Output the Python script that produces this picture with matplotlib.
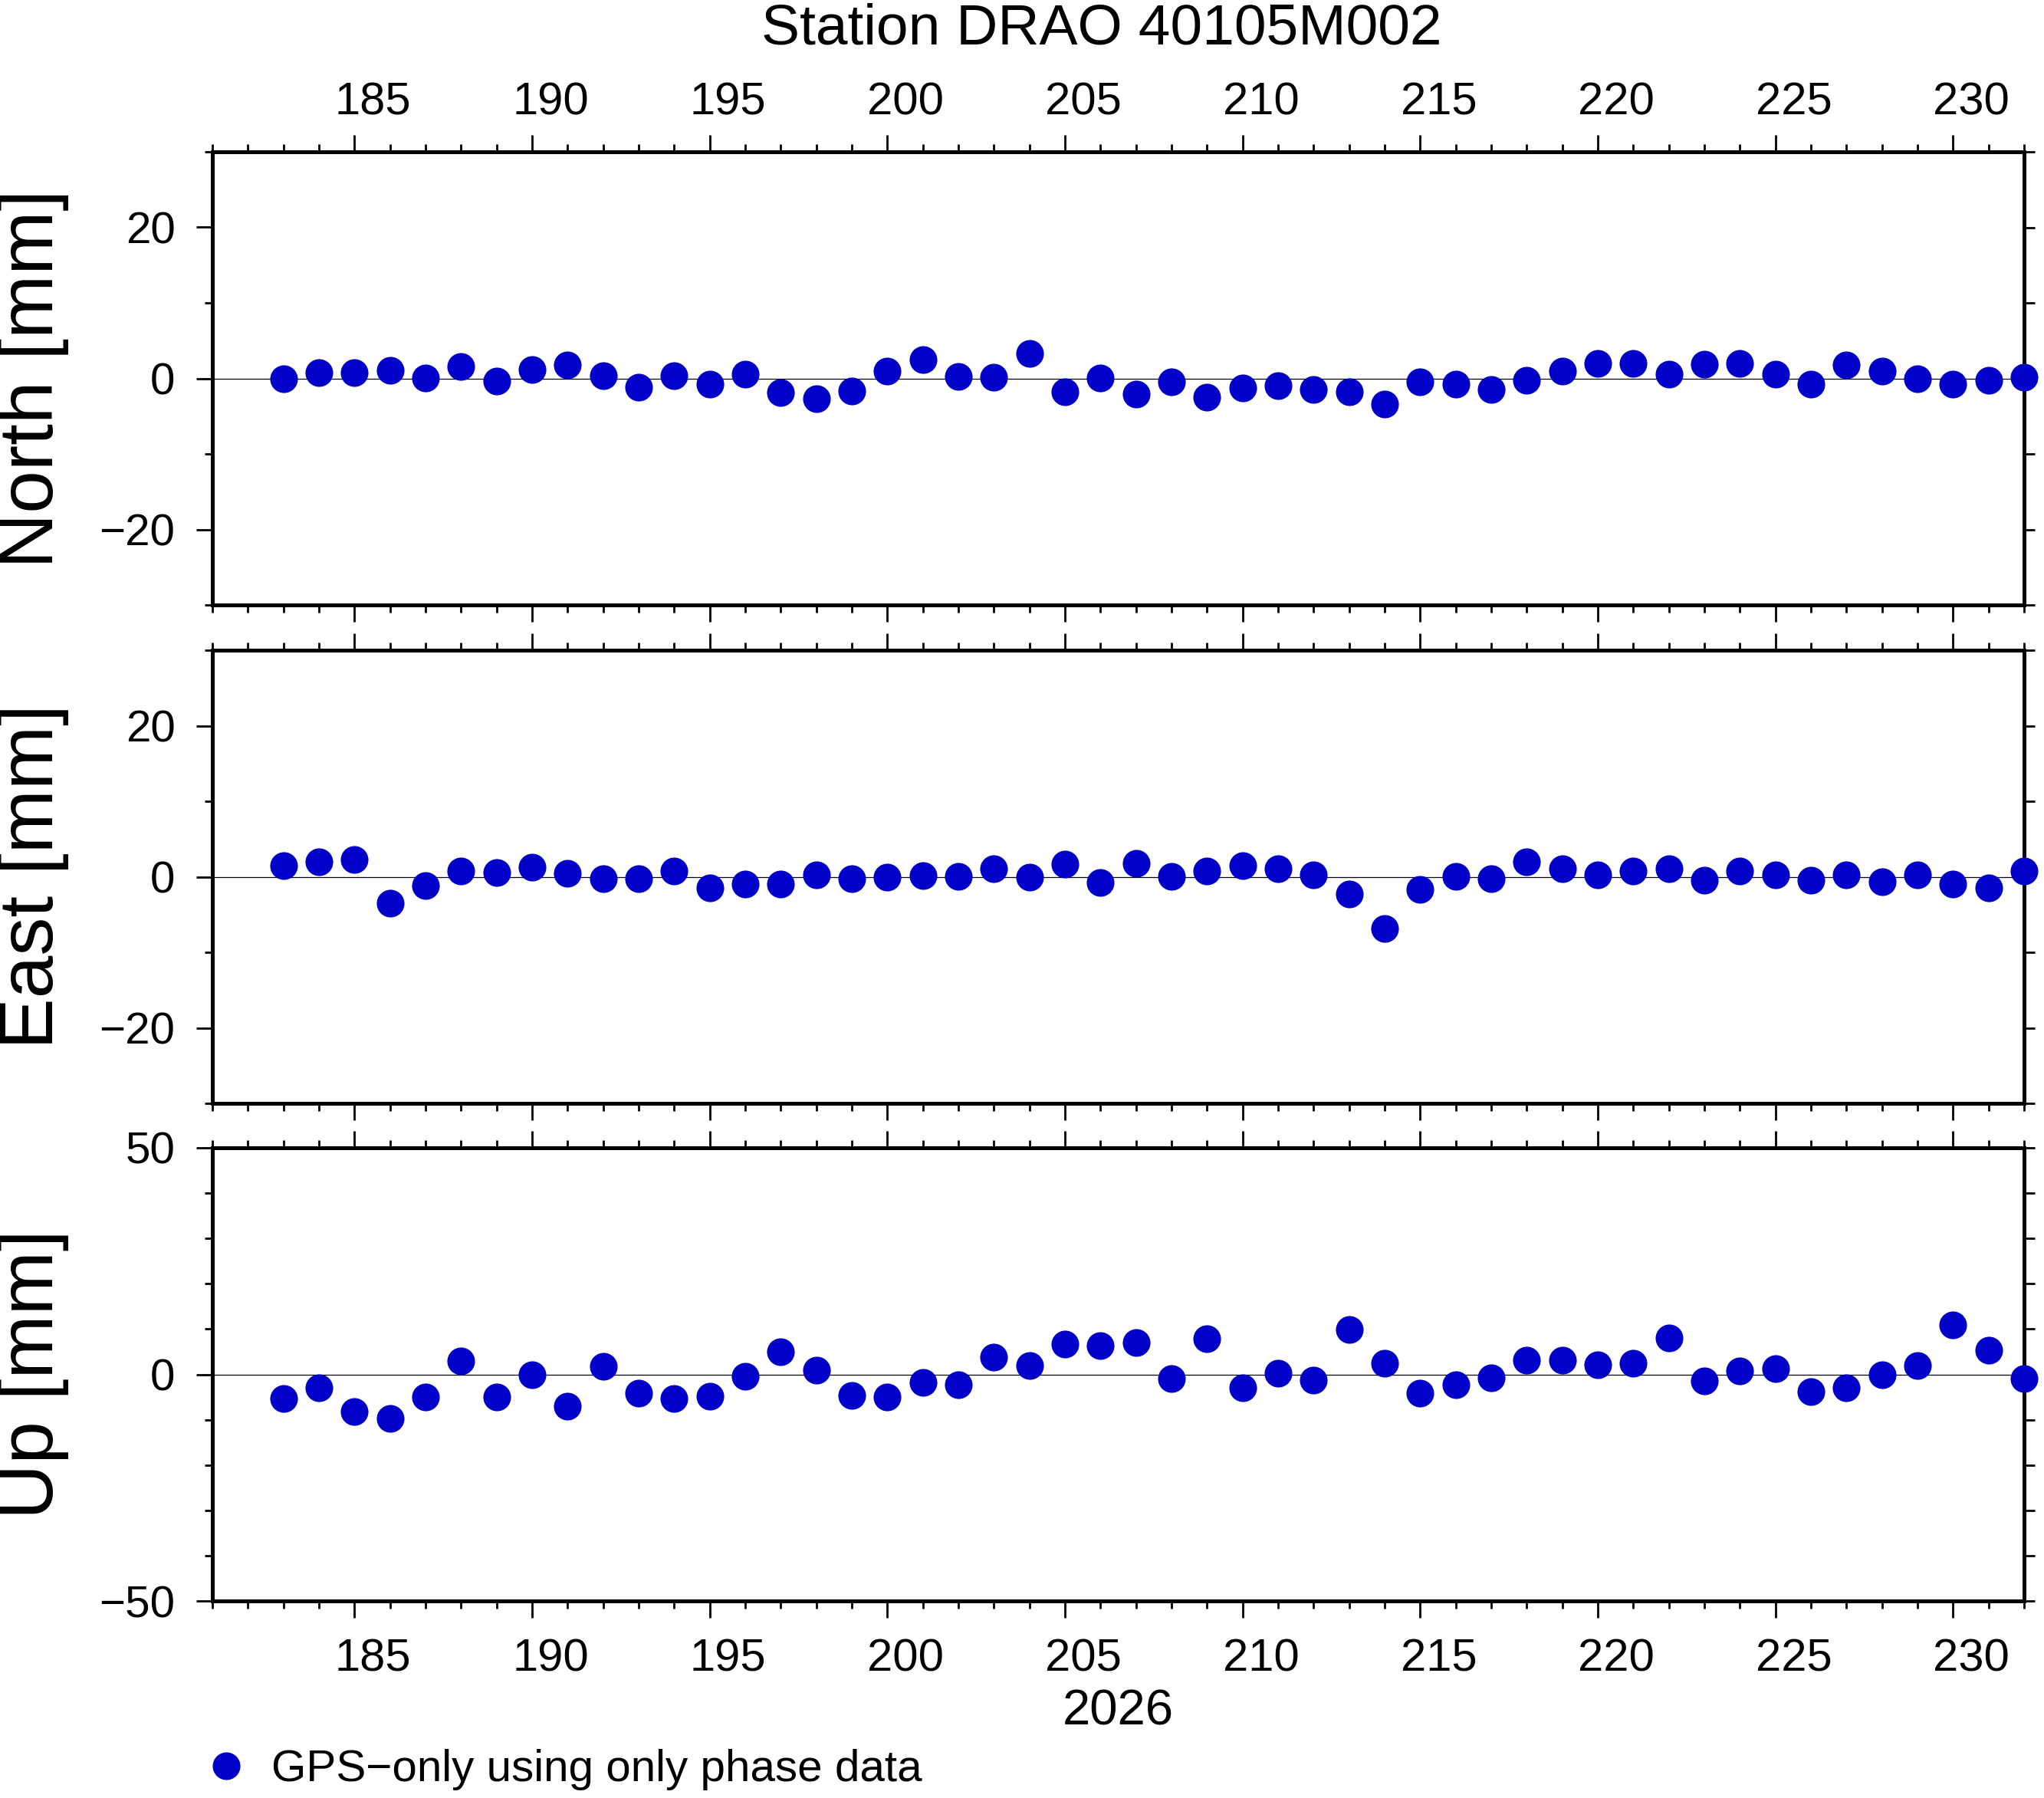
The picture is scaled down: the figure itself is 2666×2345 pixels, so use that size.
import matplotlib
matplotlib.use('Agg')
import matplotlib.pyplot as plt
from matplotlib.ticker import MultipleLocator, FixedLocator, NullFormatter
from matplotlib.transforms import ScaledTranslation

# === Dados (dia do ano, residuos em mm) ===
days = [183, 184, 185, 186, 187, 188, 189, 190, 191, 192,
        193, 194, 195, 196, 197, 198, 199, 200, 201, 202,
        203, 204, 205, 206, 207, 208, 209, 210, 211, 212,
        213, 214, 215, 216, 217, 218, 219, 220, 221, 222,
        223, 224, 225, 226, 227, 228, 229, 230, 231, 232]

north = [0.0, 0.76, 0.76, 1.1, 0.08, 1.6, -0.34, 1.18, 1.77, 0.38,
         -1.18, 0.38, -0.76, 0.55, -1.85, -2.74, -1.64, 0.97, 2.48, 0.25,
         0.17, 3.3, -1.77, 0.08, -2.06, -0.42, -2.44, -1.22, -1.0, -1.5,
         -1.77, -3.37, -0.42, -0.72, -1.43, -0.21, 1.0, 1.98, 1.98, 0.55,
         1.9, 1.98, 0.59, -0.76, 1.73, 1.0, 0.0, -0.76, -0.3, 0.17]

east = [1.43, 2.02, 2.27, -3.54, -1.14, 0.8, 0.59, 1.22, 0.42, -0.29,
        -0.25, 0.72, -1.43, -1.0, -1.0, 0.25, -0.21, -0.08, 0.17, 0.08,
        1.05, 0.0, 1.64, -0.72, 1.81, 0.08, 0.72, 1.52, 1.1, 0.21,
        -2.32, -6.9, -1.64, 0.08, -0.21, 2.02, 1.1, 0.29, 0.72, 1.1,
        -0.42, 0.8, 0.21, -0.5, 0.29, -0.63, 0.21, -0.93, -1.43, 0.72]

up = [-5.33, -2.88, -8.27, -9.68, -5.05, 3.02, -4.91, 0.0, -6.94, 1.75,
      -4.21, -5.26, -4.77, -0.49, 4.91, 0.98, -4.7, -4.98, -1.82, -2.31,
      3.8, 2.03, 6.66, 6.31, 7.08, -0.98, 7.85, -2.88, 0.21, -1.33,
      9.96, 2.52, -4.21, -2.31, -0.84, 3.09, 3.09, 2.17, 2.38, 7.99,
      -1.47, 0.7, 1.33, -3.86, -3.02, -0.14, 2.03, 10.87, 5.4, -0.91]

panels = [
    ('North [mm]', north, 30, [-20, 0, 20]),
    ('East [mm]', east, 30, [-20, 0, 20]),
    ('Up [mm]', up, 50, [-50, 0, 50]),
]

title = 'Station DRAO 40105M002'
year_label = '2026'
legend_label = 'GPS\u2212only using only phase data'

# === Configuracoes gerais ===
plt.rcParams['font.family'] = ['Liberation Sans', 'DejaVu Sans']
W, H = 2666, 2345
fig = plt.figure(figsize=(W / 100, H / 100), dpi=100)

left_px, right_px = 277, 2640
tops_px = [198, 848, 1497]
panel_h = 591
blue = '#0000c8'
frame_lw = 3.6
tick_w = 2.0
label_shift = ScaledTranslation(0.24, 0, fig.dpi_scale_trans)

handle = None
for i, (label, vals, lim, major) in enumerate(panels):
    top = tops_px[i]
    ax = fig.add_axes([left_px / W, 1 - (top + panel_h) / H,
                       (right_px - left_px) / W, panel_h / H])
    ax.axhline(0, color='black', lw=0.9, zorder=1)
    h, = ax.plot(days, vals, 'o', color=blue, markersize=26,
                 markeredgewidth=0, clip_on=False, zorder=3,
                 label=legend_label)
    if handle is None:
        handle = h
    ax.set_xlim(181, 232)
    ax.set_ylim(-lim, lim)

    for s in ax.spines.values():
        s.set_linewidth(frame_lw)

    # eixo x: ticks em cima e em baixo
    ax.xaxis.set_major_locator(MultipleLocator(5))
    ax.xaxis.set_minor_locator(MultipleLocator(1))
    ax.tick_params(axis='x', which='major', direction='out', length=16,
                   width=tick_w, top=True, bottom=True, labelsize=43,
                   labeltop=(i == 0), labelbottom=(i == 2))
    ax.tick_params(axis='x', which='minor', direction='out', length=7,
                   width=tick_w, top=True, bottom=True)
    if i == 0:
        ax.tick_params(axis='x', which='major', pad=10)
    if i == 2:
        ax.tick_params(axis='x', which='major', pad=19)
    # rotulos deslocados para a direita do tick (estilo GMT)
    for t in ax.xaxis.get_major_ticks():
        t.label1.set_transform(t.label1.get_transform() + label_shift)
        t.label2.set_transform(t.label2.get_transform() + label_shift)

    # eixo y esquerdo
    ax.yaxis.set_major_locator(FixedLocator(major))
    ax.yaxis.set_minor_locator(MultipleLocator(10))
    ax.tick_params(axis='y', which='major', direction='out', length=15,
                   width=tick_w, left=True, right=False, labelsize=42, pad=20)
    ax.tick_params(axis='y', which='minor', direction='out', length=7,
                   width=tick_w, left=True, right=False)

    # eixo y direito: ticks a cada 10 sem rotulos
    sec = ax.secondary_yaxis('right')
    sec.spines['right'].set_linewidth(frame_lw)
    sec.yaxis.set_major_locator(MultipleLocator(10))
    sec.yaxis.set_major_formatter(NullFormatter())
    sec.tick_params(axis='y', which='major', direction='out', length=10,
                    width=tick_w)

    ax.text(-0.099, 0.5, label, rotation=90, ha='center', va='center',
            fontsize=72, transform=ax.transAxes)

fig.text(0.539, 1 - 58 / H, title, ha='center', va='baseline', fontsize=54)
fig.text((left_px + right_px) / 2 / W, 1 - 2250 / H, year_label,
         ha='center', va='baseline', fontsize=47)

fig.legend(handles=[handle], loc='center left',
           bbox_to_anchor=(266 / W, 1 - 2308 / H), frameon=False,
           fontsize=42, handlelength=1.0, handletextpad=0.5,
           borderpad=0, borderaxespad=0)

fig.savefig('out.png', dpi=100)
